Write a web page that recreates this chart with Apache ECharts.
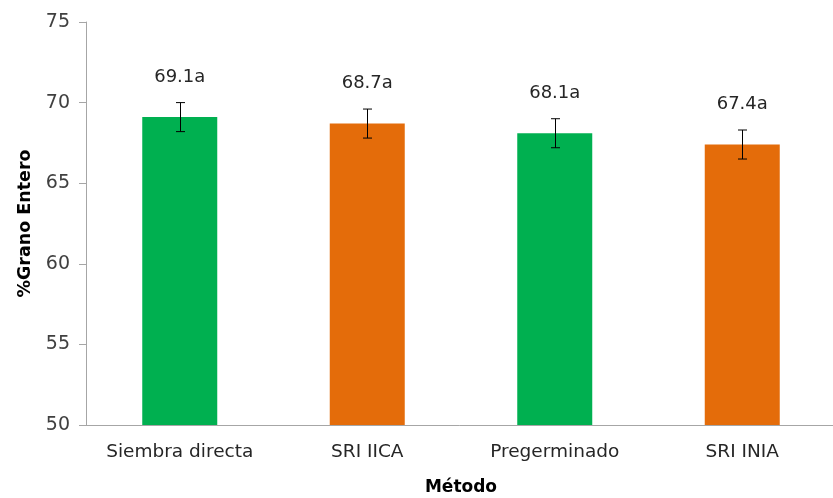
<!DOCTYPE html>
<html>
<head>
<meta charset="utf-8">
<script src="https://cdn.jsdelivr.net/npm/echarts@6/dist/echarts.min.js"></script>
<style>
  html, body { margin: 0; padding: 0; background: #fff; }
  #chart { width: 833px; height: 498px; }
</style>
</head>
<body>
<div id="chart"></div>
<script>
const categories = ["Siembra directa", "SRI IICA", "Pregerminado", "SRI INIA"];
const values = [69.1, 68.7, 68.1, 67.4];
const letters = ["a", "a", "a", "a"];
const errors = [0.9, 0.9, 0.9, 0.9];
const barColors = ["#00B050", "#E46C0A", "#00B050", "#E46C0A"];

const font = "'DejaVu Sans', sans-serif";

const chart = echarts.init(document.getElementById("chart"));
chart.setOption({
  animation: false,
  grid: { left: 86, right: -3, top: 22, bottom: 73, outerBoundsMode: "none" },
  xAxis: {
    type: "category",
    data: categories,
    name: "Método",
    nameLocation: "middle",
    nameGap: 54,
    nameTextStyle: { fontFamily: font, fontWeight: "bold", fontSize: 17, color: "#000" },
    axisLine: { lineStyle: { color: "#A6A6A6", width: 1 } },
    axisTick: { show: false },
    axisLabel: { interval: 0, fontFamily: font, fontSize: 18.5, color: "#262626", margin: 18 },
  },
  yAxis: {
    type: "value",
    min: 50,
    max: 75,
    interval: 5,
    name: "%Grano Entero",
    nameLocation: "middle",
    nameGap: 52,
    nameTextStyle: { fontFamily: font, fontWeight: "bold", fontSize: 17.5, color: "#000" },
    axisLine: { show: true, lineStyle: { color: "#A6A6A6", width: 1 } },
    axisTick: { show: true, length: 7, lineStyle: { color: "#A6A6A6" } },
    splitLine: { show: false },
    axisLabel: { fontFamily: font, fontSize: 19, color: "#404040", margin: 16 },
  },
  series: [
    {
      type: "bar",
      barWidth: "40%",
      data: values.map((v, i) => ({ value: v, itemStyle: { color: barColors[i] } })),
      label: {
        show: true,
        position: "top",
        distance: 31,
        fontFamily: font,
        fontSize: 18,
        color: "#262626",
        formatter: (p) => p.value.toFixed(1) + letters[p.dataIndex],
      },
    },
    {
      type: "custom",
      data: values.map((v, i) => [i, v - errors[i], v + errors[i]]),
      z: 10,
      renderItem: function (params, api) {
        const lo = api.coord([api.value(0), api.value(1)]);
        const hi = api.coord([api.value(0), api.value(2)]);
        const x = Math.round(lo[0]) + 0.5;
        const w = 4.5;
        const style = { stroke: "#000", lineWidth: 1 };
        return {
          type: "group",
          children: [
            { type: "line", shape: { x1: x, y1: hi[1], x2: x, y2: lo[1] }, style },
            { type: "line", shape: { x1: x - w, y1: hi[1], x2: x + w, y2: hi[1] }, style },
            { type: "line", shape: { x1: x - w, y1: lo[1], x2: x + w, y2: lo[1] }, style },
          ],
        };
      },
    },
  ],
});
</script>
</body>
</html>
